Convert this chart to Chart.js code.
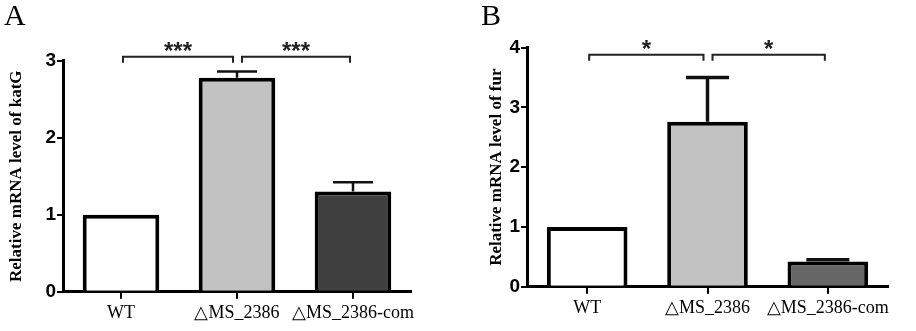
<!DOCTYPE html>
<html>
<head>
<meta charset="utf-8">
<script src="https://cdn.jsdelivr.net/npm/chart.js@4"></script>
<style>
  html,body{margin:0;padding:0;background:#fff;}
  .wrap{position:relative;width:916px;height:331px;}
  .panel{position:absolute;top:0;height:331px;}
  #pa{left:0;width:460px;}
  #pb{left:460px;width:456px;}
</style>
</head>
<body>
<div class="wrap">
  <div class="panel" id="pa"><canvas id="chartA"></canvas></div>
  <div class="panel" id="pb"><canvas id="chartB"></canvas></div>
</div>
<script>
// data
const categories = ['WT', '\u25B3MS_2386', '\u25B3MS_2386-com'];
const katgValues = [1.0, 2.78, 1.30];
const katgErrors = [0, 0.08, 0.12];
const furValues = [1.0, 2.76, 0.42];
const furErrors = [0, 0.74, 0.03];
const katgTicks = [0, 1, 2, 3];
const furTicks = [0, 1, 2, 3, 4];
const katgStars = ['***', '***'];
const furStars = ['*', '*'];

// error bars, significance brackets and panel letter
const extras = {
  id: 'extras',
  afterDatasetsDraw(chart, args, o){
    const ctx = chart.ctx, x = chart.scales.x, y = chart.scales.y;
    const meta = chart.getDatasetMeta(0);
    ctx.save();
    ctx.strokeStyle = '#111';
    ctx.lineCap = 'butt';
    ctx.lineWidth = o.errWidth;
    meta.data.forEach((bar, i) => {
      const e = o.errors[i];
      if(!e) return;
      const top = y.getPixelForValue(o.values[i] + e);
      ctx.beginPath();
      ctx.moveTo(bar.x, bar.y); ctx.lineTo(bar.x, top);
      ctx.moveTo(bar.x - o.cap/2, top); ctx.lineTo(bar.x + o.cap/2, top);
      ctx.stroke();
    });
    // brackets
    ctx.lineWidth = 2;
    ctx.strokeStyle = '#222';
    const by = y.getPixelForValue(o.bracketAt);
    const pairs = [[0, 1], [1, 2]];
    pairs.forEach((p, k) => {
      const x1 = x.getPixelForValue(p[0]) + (k === 0 ? 2 : 5);
      const x2 = x.getPixelForValue(p[1]) + (k === 0 ? -4 : -3);
      ctx.beginPath();
      ctx.moveTo(x1, by + 6); ctx.lineTo(x1, by); ctx.lineTo(x2, by); ctx.lineTo(x2, by + 6);
      ctx.stroke();
      ctx.fillStyle = '#222';
      ctx.font = 'bold 24px "Liberation Sans"';
      ctx.textAlign = 'center';
      ctx.textBaseline = 'alphabetic';
      ctx.fillText(o.stars[k], (x1 + x2) / 2, by + 2);
    });
    ctx.fillStyle = '#000';
    ctx.font = '30px "Liberation Serif"';
    ctx.textAlign = 'left';
    ctx.textBaseline = 'top';
    ctx.fillText(o.letter, o.letterX, 2);
    ctx.restore();
  }
};

function makeChart(id, values, errors, ticks, colors, opts){
  return new Chart(document.getElementById(id), {
    type: 'bar',
    data: {
      labels: categories,
      datasets: [{
        data: values,
        backgroundColor: colors,
        borderColor: '#000',
        borderWidth: 4,
        borderSkipped: 'bottom',
        categoryPercentage: 1,
        barPercentage: opts.barPct
      }]
    },
    plugins: [extras],
    options: {
      responsive: true,
      maintainAspectRatio: false,
      animation: false,
      layout: {padding: {top: opts.top, right: opts.right, left: 0, bottom: 0}},
      plugins: {
        legend: {display: false},
        tooltip: {enabled: false},
        extras: {values: values, errors: errors, cap: opts.cap, errWidth: opts.errWidth,
                 bracketAt: opts.bracketAt, stars: opts.stars, letter: opts.letter, letterX: opts.letterX}
      },
      scales: {
        x: {
          offset: true,
          grid: {display: true, offset: false, drawOnChartArea: false, drawTicks: true, tickLength: 7, color: '#000', lineWidth: 2},
          border: {display: true, color: '#000', width: 3},
          ticks: {color: '#000', padding: 4, maxRotation: 0, minRotation: 0, autoSkip: false,
                  font: {family: '"Liberation Serif"', size: 18}},
          afterFit: s => { s.height = opts.xHeight; }
        },
        y: {
          min: 0,
          max: ticks[ticks.length - 1],
          afterBuildTicks: s => { s.ticks = ticks.map(v => ({value: v})); },
          grid: {display: true, drawOnChartArea: false, drawTicks: true, tickLength: 6, color: '#000', lineWidth: 2},
          border: {display: true, color: '#000', width: 3},
          ticks: {color: '#000', padding: 1, font: {family: '"Liberation Sans"', size: 19, weight: 'bold'}},
          title: {display: true, text: opts.yTitle, color: '#000', padding: {top: opts.titlePad, bottom: 0},
                  font: {family: '"Liberation Serif"', size: 17, weight: 'bold'}},
          afterFit: s => { s.width = opts.yWidth; }
        }
      }
    }
  });
}

makeChart('chartA', katgValues, katgErrors, katgTicks, ['#ffffff', '#c2c2c2', '#404040'], {
  barPct: 0.66, top: 60.7, right: 49, xHeight: 39.3, yWidth: 63, cap: 40, errWidth: 2.5, titlePad: 6,
  bracketAt: 3.05, stars: katgStars, letter: 'A', letterX: 4, yTitle: 'Relative mRNA level of katG'
});
makeChart('chartB', furValues, furErrors, furTicks, ['#ffffff', '#c2c2c2', '#666666'], {
  barPct: 0.67, top: 47.7, right: 28, xHeight: 44.3, yWidth: 67, cap: 43, errWidth: 3.5, titlePad: 26,
  bracketAt: 3.88, stars: furStars, letter: 'B', letterX: 21, yTitle: 'Relative mRNA level of fur'
});
</script>
</body>
</html>
